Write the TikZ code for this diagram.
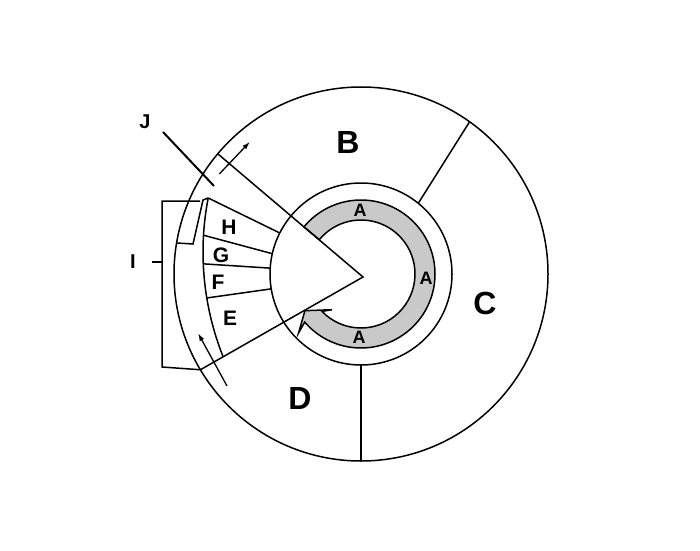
\documentclass[tikz,border=0pt]{standalone}
\usepackage{fontspec}
\setmainfont{Liberation Sans}
\usetikzlibrary{calc,arrows.meta}
\begin{document}
\begin{tikzpicture}[x=1pt,y=1pt,line width=1.5pt,
  lblbig/.style={inner sep=0pt,font=\fontsize{32}{32}\selectfont\bfseries},
  lblmid/.style={inner sep=0pt,font=\fontsize{21}{21}\selectfont\bfseries},
  lblring/.style={inner sep=0pt,font=\fontsize{18}{18}\selectfont\bfseries},
  lblside/.style={inner sep=0pt,font=\fontsize{20}{20}\selectfont\bfseries},
  flow/.style={-{Latex[length=8pt,width=5pt]},line width=1.3pt}]
\useasboundingbox (0,0) rectangle (700,550);
% centres
\coordinate (ctr) at (361,276);
\coordinate (apex) at (363,273);
\coordinate (ehc) at (486,298);
\coordinate (wedgeup) at ($(ctr)+(140:187)$);
\coordinate (wedgelow) at ($(ctr)+(210.8:187)$);
% grey ring with its head
\filldraw[fill=gray!42] ($(ctr)+(140.5:74)$) arc[start angle=140.5,end angle=-139.5,radius=74]
  -- ($(ctr)+(-136.6:86)$) -- ($(ctr)+(-146.8:67)$) -- ($(ctr)+(-129.1:46)$)
  -- ($(ctr)+(-136.2:54)$) arc[start angle=-136.2,end angle=140.5,radius=54] -- cycle;
% circles
\draw (ctr) circle[radius=187];
\draw (ctr) circle[radius=91];
% wedge
\draw (wedgeup) -- (apex) -- (wedgelow);
% B/C and C/D
\draw ($(ctr)+(54.5:187)$) -- ($(ctr)+(51:91)$);
\draw ($(ctr)+(-90:187)$) -- ($(ctr)+(-90:91)$);
% E..H
\draw ($(ehc)+(169:283)$) arc[start angle=169,end angle=201.6,radius=283];
\foreach \a/\b in {169/153.2,176.6/167.1,182.4/176.3,189.35/189.4}
  \draw ($(ehc)+(\a:283)$) -- ($(ctr)+(\b:91)$);
% strip, bracket, J
\coordinate (stripbot) at (177,307);
\draw (stripbot) -- (193,306) -- (203,350) -- ($(ehc)+(169:283)$);
\coordinate (brtop) at (200,349);
\draw (brtop) -- (162,349) -- (162,183) -- (wedgelow);
\coordinate (brmid) at (162,288);
\coordinate (itick) at (152,288);
\draw (itick) -- (brmid);
\coordinate (jfrom) at (163,418);
\coordinate (jto) at (214,364);
\draw[line width=2pt] (jfrom) -- (jto);
% arrows
\coordinate (uparrA) at (219.3,376);
\coordinate (uparrB) at (250,408.3);
\coordinate (lowarrA) at (227,164);
\coordinate (lowarrB) at (198,217);
\draw[flow] (uparrA) -- (uparrB);
\draw[flow] (lowarrA) -- (lowarrB);
% labels
\node[lblbig] (lblB) at (348,408) {B};
\node[lblbig] (lblC) at (485,247) {C};
\node[lblbig] (lblD) at (300,152) {D};
\node[lblmid] (lblH) at (229,323) {H};
\node[lblmid] (lblG) at (221,295) {G};
\node[lblmid] (lblF) at (218,268) {F};
\node[lblmid] (lblE) at (230,232) {E};
\node[lblring] (lblAt) at (360,340) {A};
\node[lblring] (lblAr) at (426,272) {A};
\node[lblring] (lblAb) at (359,213) {A};
\node[lblside] (lblI) at (133,288) {I};
\node[lblside] (lblJ) at (145,428) {J};
\end{tikzpicture}
\end{document}
